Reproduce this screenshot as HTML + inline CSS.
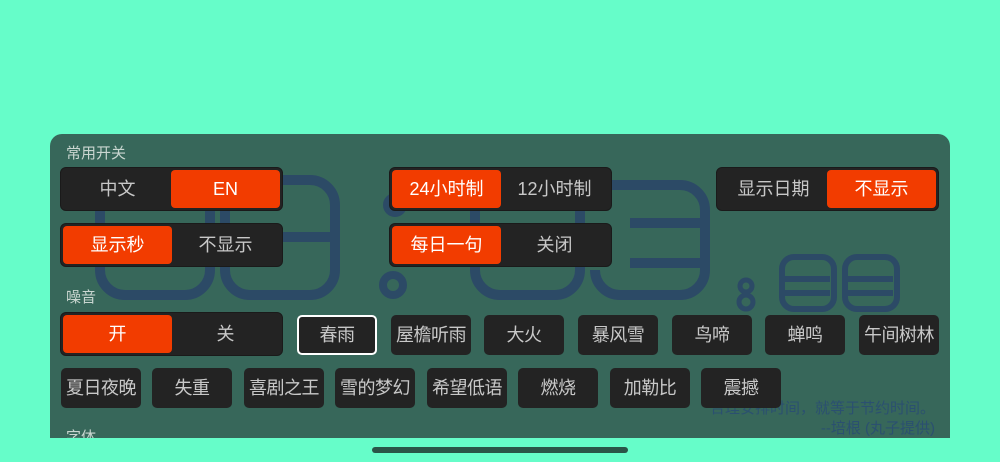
<!DOCTYPE html>
<html><head><meta charset="utf-8"><style>
*{margin:0;padding:0;box-sizing:border-box}
body{width:1000px;height:462px;background:#66fdc9;position:relative;overflow:hidden;font-family:"Liberation Sans","Noto Sans CJK SC",sans-serif}
#panel{position:absolute;left:50px;top:134px;width:900px;height:304px;background:#37675a;border-radius:12px 12px 0 0;overflow:hidden}
.lbl{position:absolute;color:#c9d6d0;font-size:15px}
.seg{position:absolute;height:44px;width:223px;background:#232323;border-radius:6px;border:1px solid #1a1a1a}
.seg div{position:absolute;top:2px;height:38px;width:109px;line-height:38px;text-align:center;font-size:18px;color:#c8c8c8;border-radius:4px}
.seg .a{left:2px}.seg .b{right:2px}
.seg .on{background:#f23c00;color:#fff}
.btn{position:absolute;width:80px;height:40px;background:#232323;border-radius:5px;color:#c8c8c8;font-size:18px;line-height:40px;text-align:center;white-space:nowrap;letter-spacing:-0.5px}
.sel{border:2px solid #fff;line-height:36px}
svg{position:absolute;left:0;top:0}
.q{position:absolute;color:#2b5070;font-size:15px;text-align:right;right:15px;line-height:20px}
#home{position:absolute;left:372px;top:447px;width:256px;height:6px;border-radius:3px;background:#2a5548}
</style></head><body>
<div id="panel">
<svg width="900" height="304" fill="none" stroke="#2c4a66" stroke-width="10">
<g transform="translate(-50,-134)">
<rect x="100" y="180" width="110" height="115" rx="25"/>
<rect x="225" y="180" width="110" height="115" rx="25"/>
<line x1="100" y1="237" x2="210" y2="237"/>
<line x1="225" y1="237" x2="335" y2="237"/>
<circle cx="395" cy="205" r="8" stroke-width="8"/>
<circle cx="393" cy="285" r="10" stroke-width="8"/>
<rect x="475" y="185" width="105" height="110" rx="25"/>
<path d="M595 185 H680 a25 25 0 0 1 25 25 V270 a25 25 0 0 1 -25 25 H620 a25 25 0 0 1 -25 -25"/>
<line x1="630" y1="223" x2="705" y2="223"/>
<line x1="630" y1="263" x2="705" y2="263"/>
<circle cx="746" cy="286" r="6" stroke-width="5"/>
<circle cx="746" cy="302" r="7" stroke-width="5"/>
<rect x="782" y="257" width="52" height="52" rx="12" stroke-width="6"/>
<rect x="845" y="257" width="52" height="52" rx="12" stroke-width="6"/>
<line x1="782" y1="279" x2="830" y2="279" stroke-width="6"/>
<line x1="845" y1="279" x2="893" y2="279" stroke-width="6"/>
<line x1="782" y1="293" x2="830" y2="293" stroke-width="6"/>
<line x1="845" y1="293" x2="893" y2="293" stroke-width="6"/>
</g></svg>
<div class="q" style="top:265px">合理安排时间，就等于节约时间。<br>--培根 (丸子提供)</div>
<div class="lbl" style="left:16px;top:8px">常用开关</div>
<div class="lbl" style="left:16px;top:152px">噪音</div>
<div class="lbl" style="left:16px;top:292px">字体</div>
</div>
<div class="seg" style="left:60px;top:167px"><div class="a">中文</div><div class="b on">EN</div></div>
<div class="seg" style="left:389px;top:167px"><div class="a on">24小时制</div><div class="b">12小时制</div></div>
<div class="seg" style="left:716px;top:167px"><div class="a">显示日期</div><div class="b on">不显示</div></div>
<div class="seg" style="left:60px;top:223px"><div class="a on">显示秒</div><div class="b">不显示</div></div>
<div class="seg" style="left:389px;top:223px"><div class="a on">每日一句</div><div class="b">关闭</div></div>
<div class="seg" style="left:60px;top:312px"><div class="a on">开</div><div class="b">关</div></div>
<div class="btn sel" style="left:297px;top:315px">春雨</div>
<div class="btn" style="left:391px;top:315px">屋檐听雨</div>
<div class="btn" style="left:484px;top:315px">大火</div>
<div class="btn" style="left:578px;top:315px">暴风雪</div>
<div class="btn" style="left:672px;top:315px">鸟啼</div>
<div class="btn" style="left:765px;top:315px">蝉鸣</div>
<div class="btn" style="left:859px;top:315px">午间树林</div>
<div class="btn" style="left:61px;top:368px">夏日夜晚</div>
<div class="btn" style="left:152px;top:368px">失重</div>
<div class="btn" style="left:244px;top:368px">喜剧之王</div>
<div class="btn" style="left:335px;top:368px">雪的梦幻</div>
<div class="btn" style="left:427px;top:368px">希望低语</div>
<div class="btn" style="left:518px;top:368px">燃烧</div>
<div class="btn" style="left:610px;top:368px">加勒比</div>
<div class="btn" style="left:701px;top:368px">震撼</div>
<div id="home"></div>
</body></html>
